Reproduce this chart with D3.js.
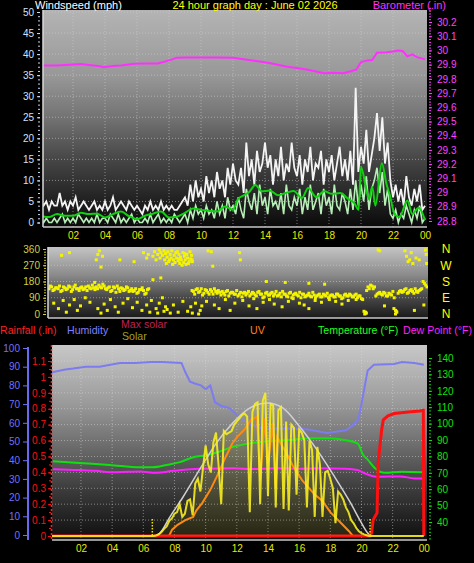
<!DOCTYPE html>
<html><head><meta charset="utf-8">
<script src="https://cdn.jsdelivr.net/npm/d3@7"></script>
<style>html,body{margin:0;padding:0;background:#000;overflow:hidden}svg{display:block}text{font-family:"Liberation Sans",Arial,sans-serif}</style>
</head><body><svg id="c" width="474" height="563"></svg>
<script>
// ---------------- DATA ----------------
const titleText = "24 hour graph day : June 02 2026";
const hourTicks = [2,4,6,8,10,12,14,16,18,20,22,24];
const windTicks = [0,5,10,15,20,25,30,35,40,45,50];
const baroTicks = [28.8,28.9,29.0,29.1,29.2,29.3,29.4,29.5,29.6,29.7,29.8,29.9,30.0,30.1,30.2];
const dirTicks = [0,90,180,270,360];
const dirLetters = ["N","E","S","W","N"];
const humTicks = [0,10,20,30,40,50,60,70,80,90,100];
const rainTicks = [0,0.1,0.2,0.3,0.4,0.5,0.6,0.7,0.8,0.9,1.0,1.1];
const tempTicks = [40,50,60,70,80,90,100,110,120,130,140];

// barometer (inHg)
const baroTimes = [0.1,1,2,2.5,3,3.7,3.9,4.5,5,5.8,6.5,7.3,7.7,8.2,8.5,9,10,11,12,13,13.9,14.6,15.3,16,16.6,17.2,17.7,18.3,18.9,19.3,19.7,20.0,20.4,20.7,21.0,21.6,22.0,22.3,22.6,22.9,23.2,23.5,24];
const baroValues = [29.894,29.894,29.901,29.905,29.898,29.889,29.882,29.891,29.894,29.906,29.908,29.908,29.920,29.937,29.949,29.951,29.950,29.950,29.949,29.933,29.918,29.905,29.887,29.877,29.866,29.852,29.840,29.843,29.840,29.852,29.864,29.918,29.930,29.933,29.984,29.988,29.993,30.000,29.996,29.958,29.972,29.953,29.937];

// wind gust (mph), every 10 minutes from 00:00
const gustValues = [
5,4,5,3,5,4, 4,7,4,5,3,5, 4,6,3,4,5,4, 3,4,5,3,4,3, 5,3,4,6,3,4, 5,4,3,5,4,3,
4,3,2,4,3,5, 3,4,3,5,3,4, 3,4,3,3,4,5, 6,4,9,5,10,6, 8,5,11,7,10,6, 12,8,10,6,13,9,
14,10,9,13,7,19, 11,15,9,17,12,14, 19,13,16,9,15,11, 18,10,14,12,19,13, 11,16,9,15,12,18, 10,14,13,17,9,15,
12,16,10,14,18,11, 15,10,17,9,32,12, 18,14,22,12,16,20, 26,17,25,14,19,10, 6,9,5,8,4,11, 6,4,8,5,9,3, 4];
// wind speed (mph), every 10 minutes
const windValues = [
1,0,1,0,0,1, 0,1,2,0,1,0, 1,0,2,1,0,1, 0,1,0,2,0,1, 1,0,2,1,0,2, 0,1,0,1,2,0,
1,0,0,1,0,2, 0,1,2,0,1,0, 1,0,2,1,0,1, 2,0,3,1,4,2, 3,1,4,2,3,1, 5,2,4,1,6,3,
4,2,6,3,1,8, 5,3,7,2,9,4, 6,2,8,4,5,3, 7,2,9,4,3,6, 4,8,2,6,3,9, 3,5,7,2,8,4,
6,2,9,4,3,7, 5,2,8,3,10,4, 9,5,11,3,8,10, 13,7,12,4,8,2, 1,3,0,2,1,4, 2,0,3,1,4,0, 1];
// average wind (mph)
const avgTimes = [0,0.5,1,1.5,2,2.5,3,3.5,4,4.5,5,5.5,6,6.5,7,7.5,8,8.5,9,9.5,10,10.5,11,11.5,12,12.3,12.7,13,13.4,13.8,14.3,14.8,15.3,15.8,16.3,16.7,17.2,17.7,18.2,18.7,19.2,19.6,19.85,20.0,20.3,20.5,20.7,20.9,21.3,21.6,21.8,22.1,22.4,22.9,23.2,23.6,24];
const avgValues = [1.5,1.3,2.0,1.6,1.6,2.3,2.0,2.1,1.2,2.0,2.6,1.5,0.8,1.6,2.1,2.6,1.2,1.4,2.3,3.3,3.0,2.8,2.6,3.8,3.0,5.5,6.5,7.2,8.9,7.4,7.6,6.5,7.0,7.5,5.8,8.2,6.0,7.4,6.8,7.0,5.6,4.5,3.0,13.2,8.5,5.5,8.5,4.0,14.1,9.0,6.5,2.0,1.3,5.2,2.0,3.5,0.6];

// wind direction (deg), every 10 minutes (A) and offset by 5 minutes (B)
const dirA = [
140,150,135,145,155,130, 145,140,150,135,160,140, 145,135,150,155,140,145, 150,160,145,155,135,150,
130,145,155,125,140,135, 145,130,125,140,120,135, 130,115,140,null,null,null, null,null,null,null,null,null,
null,null,null,null,null,null, null,125,135,120,140,115, 130,110,125,140,115,120, 125,105,130,115,120,110,
100,120,115,105,125,110, 115,100,125,110,95,120, 105,120,110,100,115,125, 110,95,120,105,115,100,
90,110,100,115,95,105, 100,110,95,105,115,100, 105,95,110,100,90,110, 100,105,95,110,100,85,
15,130,140,155,150,110, 120,105,115,100,110,125, 20,115,130,125,140,120, 135,115,125,130,140,170, 150];
const dirB = [
155,130,145,140,125,150, 135,155,125,150,140,130, 150,140,130,145,160,135, 140,150,165,140,145,125,
150,120,140,145,130,150, 125,140,130,115,135,145, 110,135,null,null,null,null, null,null,null,null,null,null,
null,null,null,null,null,null, 130,110,140,125,105,135, 120,135,110,125,130,105, 115,125,100,120,110,130,
110,95,120,115,100,120, 105,120,110,90,115,105, 115,100,125,105,95,110, 100,115,90,110,105,120,
110,95,105,100,120,90, 105,95,110,100,90,105, 95,110,100,85,105,100, 110,95,105,90,100,80,
5,150,160,140,100,115, 110,120,100,115,105,90, 10,125,120,135,115,130, 125,140,120,135,180,160];
// scattered direction readings [hour, deg]
const dirScatter = [
[0.3,60],[0.6,30],[0.9,75],[1.1,10],[1.3,50],[1.6,80],[1.8,20],[2.0,45],[2.3,90],[2.6,65],[2.9,175],[3.1,30],[3.3,5],[3.5,55],[3.7,20],[3.9,80],
[4.2,40],[4.4,10],[4.7,60],[5.0,85],[5.3,35],[5.6,65],[5.9,20],[6.2,50],[6.4,10],[6.5,75],[6.6,190],[6.8,30],[6.9,5],[7.0,60],[7.1,200],[7.2,90],[7.3,15],[7.4,40],
[0.8,325],[1.3,340],[3.0,300],[3.1,330],[3.2,350],[3.3,260],[3.4,320],[4.5,300],[6.0,340],[6.2,310],[6.3,330],[5.4,290],
[6.6,320],[6.7,345],[6.8,300],[6.9,330],[7.0,355],[7.05,310],[7.1,340],[7.2,325],[7.3,350],[7.35,300],[7.4,335],[7.5,315],[7.55,345],[7.6,290],[7.7,330],[7.75,310],
[7.8,350],[7.9,300],[7.95,325],[8.0,285],[8.05,340],[8.1,310],[8.2,295],[8.25,330],[8.3,280],[8.35,315],[8.4,300],[8.5,340],[8.55,285],[8.6,320],[8.65,300],[8.7,275],
[8.75,330],[8.8,310],[8.9,290],[8.95,345],[9.0,305],[9.05,325],[9.1,290],[7.45,280],[7.85,275],[8.15,345],[8.45,270],[8.85,280],[7.65,300],[8.28,305],[8.62,335],[9.08,300],
[7.5,25],[7.7,5],[7.9,50],[8.2,10],[8.5,70],[8.8,15],[9.0,40],[9.1,5],[9.3,60],[9.5,0],[9.6,20],[9.7,45],
[10.0,70],[10.5,50],[10.8,30],[11.2,80],[11.5,20],[11.8,60],[12.3,75],[12.7,45],[13.0,85],[13.2,30],[13.6,65],[14.0,80],[14.3,55],[14.8,40],[15.2,70],[15.5,85],
[15.9,60],[16.2,50],[16.5,30],[16.9,75],[17.3,65],[17.8,80],[18.2,70],[18.6,55],[19.0,75],[19.5,80],
[10.1,350],[10.3,345],[10.4,265],[12.1,340],[12.15,300],[13.8,180],[15.0,175],[16.5,170],[17.5,165],
[20.9,355],[21.0,350],[22.6,350],[22.7,320],[22.8,290],[22.9,300],[23.0,340],[23.1,280],[23.3,310],[23.5,300],[23.9,355],[23.95,330],[23.98,280],
[20.05,0],[20.1,10],[20.15,5],[21.9,30],[22.0,0],[22.05,15],[21.3,45],[23.2,20],[23.8,50]];

// humidity (%)
const humTimes = [0.1,1.0,1.5,2.3,3.2,4.5,5.5,6.5,7.2,8.45,8.7,9.0,9.3,9.7,10.0,10.3,10.6,11.0,11.5,11.9,12.3,12.9,13.7,15.0,16.5,17.8,19.0,19.5,19.8,20.0,20.2,20.4,20.8,22.1,22.6,23.4,24.0];
const humValues = [87,88.5,89,90,90,92,92,92.5,92.5,92,87,82,81,80,78,80,71,69,68,65,62,59,57,57,56.5,54.5,56,59,62,70,79,88,91,91.5,92.5,92,91];
// temperature (F)
const tempTimes = [0.2,1.9,3.85,5.8,6.6,7.5,8.35,9.2,10.1,10.75,11.8,12.9,14.0,15.4,16.7,18.0,18.9,19.75,20.1,20.4,20.85,21.5,22.6,24.0];
const tempValues = [77,76,74.8,73.4,73.4,74.8,76.5,79.5,80.8,82.5,86,88,89.2,90,91,91,90,88,81,78,73,70,70.7,70.3];
// dew point (F)
const dewTimes = [0.2,1.9,3.0,3.85,5.0,5.8,6.8,7.9,9.6,11.8,13,14.5,16,17.5,19.0,19.75,20.2,21.0,22.5,23.4,24];
const dewValues = [72.2,71.7,71.2,70.3,70.6,70.8,70.0,71.2,72.5,72.7,72.3,72.7,72.5,72.7,72.5,71.7,69.7,67.6,67.8,66.6,66.6];
// rainfall (in)
const rainTimes = [0,20.55,20.65,20.75,20.85,21.0,21.07,21.3,21.4,21.7,22.1,23.0,23.75,23.97,24.0];
const rainValues = [0,0,0.02,0.10,0.12,0.145,0.46,0.67,0.73,0.755,0.77,0.78,0.786,0.79,0];
// max solar (W/m2)
const maxSolTimes = [6.6,7.07,7.7,8.55,9.6,10.7,11.75,12.85,13.95,14.95,16.05,17.15,18.2,19.3,19.9,20.4,20.6];
const maxSolValues = [0,19,119,245,415,585,711,805,836,805,685,541,384,208,100,19,0];
// solar (W/m2), every 10 minutes from 00:00
const solarValues = [
0,0,0,0,0,0, 0,0,0,0,0,0, 0,0,0,0,0,0, 0,0,0,0,0,0, 0,0,0,0,0,0, 0,0,0,0,0,0,
0,0,0,0,0,3, 10,25,45,60,95,110, 140,150,200,120,140,220, 230,130,330,360,280,430, 570,450,400,590,650,440,
200,660,640,650,660,700, 720,740,760,770,750,150, 780,830,840,200,850,900, 250,830,820,180,790,810,
170,720,160,700,680,260, 670,650,600,180,600,540, 120,560,450,120,400,410, 360,300,80,280,260,230,
180,150,100,80,50,30, 18,10,5,0,0,0, 0,0,0,0,0,0, 0,0,0,0,0,0, 0,0,0,0,0,0, 0];
// UV index
const uvTimes = [7.65,7.85,8.2,8.7,9.2,9.4,9.8,10.3,10.7,11.3,11.7,12.0,12.5,12.9,13.1,13.3,13.5,13.8,14.0,14.3,14.5,14.6,14.95,15.3,15.6,16.2,17.0,17.5,18.0,18.7,19.2,19.45];
const uvValues = [0,0.4,0.7,1.0,1.2,1.6,2.1,2.9,3.7,5.0,5.8,6.2,6.7,7.3,7.4,7.5,3.5,7.4,4.5,7.1,3.0,6.2,5.6,5.0,4.4,3.5,2.6,2.2,1.5,0.8,0.3,0];
const sunriseHour = 6.58, sunsetHour = 20.55;

// ---------------- DRAW ----------------
const svg = d3.select("#c");
svg.append("rect").attr("width",474).attr("height",563).attr("fill","#000");
const defs = svg.append("defs");
function grad(id, stops){
  const g = defs.append("linearGradient").attr("id",id).attr("x1",0).attr("y1",0).attr("x2",0).attr("y2",1);
  stops.forEach(([o,c])=>g.append("stop").attr("offset",o).attr("stop-color",c));
}
grad("gTop",[[0,"#b4b4b4"],[0.3,"#989898"],[0.5,"#727272"],[0.68,"#484848"],[0.85,"#262626"],[1,"#0a0a0a"]]);
grad("gMid",[[0,"#c4c4c4"],[0.4,"#8a8a8a"],[0.7,"#4a4a4a"],[1,"#1a1a1a"]]);
grad("gBot",[[0,"#c8c8c8"],[0.3,"#9a9a9a"],[0.5,"#707070"],[0.75,"#3a3a3a"],[1,"#0e0e0e"]]);
function clip(id,r){ defs.append("clipPath").attr("id",id).append("rect").attr("x",r.x0).attr("y",r.y0).attr("width",r.x1-r.x0).attr("height",r.y1-r.y0); }
const zip = (t,v)=>t.map((x,i)=>[x,v[i]]);
const every10 = arr => arr.map((v,i)=>[i/6,v]);
const fmt2 = h => d3.format("02")(h%24);
function styleAxis(g,color,fs){
  g.select(".domain").remove();
  g.selectAll("line").attr("stroke",color);
  g.selectAll("text").attr("fill",color).style("font-size",fs+"px").style("font-family","Liberation Sans, Arial, sans-serif");
}
function gridDots(g,color){ g.attr("stroke",color).attr("stroke-width",1).attr("stroke-dasharray","1,2"); }

// ===== TOP: wind + barometer =====
const T = {x0:43,x1:427,y0:10,y1:227};
clip("cT",T);
const xT = d3.scaleLinear([0,24],[41,425]);
const yW = d3.scaleLinear([0,50],[222.5,12]);
const yB = d3.scaleLinear([28.8,30.2],[221,22]);
svg.append("rect").attr("x",T.x0).attr("y",T.y0).attr("width",T.x1-T.x0).attr("height",T.y1-T.y0).attr("fill","url(#gTop)");
const gT = svg.append("g").attr("clip-path","url(#cT)");
const gridT = gT.append("g"); gridDots(gridT,"rgba(210,210,210,0.55)");
hourTicks.slice(0,11).forEach(h=>gridT.append("line").attr("x1",xT(h)).attr("x2",xT(h)).attr("y1",T.y0).attr("y2",T.y1));
windTicks.slice(1).forEach(v=>gridT.append("line").attr("x1",T.x0).attr("x2",T.x1).attr("y1",yW(v)).attr("y2",yW(v)));
gT.append("path").datum(zip(baroTimes,baroValues)).attr("fill","none").attr("stroke","#ff30ff").attr("stroke-width",2)
  .attr("d",d3.line().x(d=>xT(d[0])).y(d=>yB(d[1])));
gT.append("path").datum(every10(gustValues)).attr("fill","none").attr("stroke","#f4f4f4").attr("stroke-width",1.8)
  .attr("d",d3.line().x(d=>xT(d[0])).y(d=>yW(d[1])));
gT.append("path").datum(every10(windValues)).attr("fill","none").attr("stroke","#b8eeb8").attr("stroke-width",1.6)
  .attr("d",d3.line().x(d=>xT(d[0])).y(d=>yW(d[1])));
gT.append("path").datum(zip(avgTimes,avgValues)).attr("fill","none").attr("stroke","#10d010").attr("stroke-width",2)
  .attr("d",d3.line().curve(d3.curveMonotoneX).x(d=>xT(d[0])).y(d=>yW(d[1])));
svg.append("line").attr("x1",T.x0).attr("x2",T.x0).attr("y1",T.y0).attr("y2",T.y1).attr("stroke","#d8d8d8").attr("stroke-width",1.5);
svg.append("line").attr("x1",T.x0).attr("x2",T.x1).attr("y1",T.y1).attr("y2",T.y1).attr("stroke","#c8c8c8").attr("stroke-width",1.5);
// axes
svg.append("g").attr("transform","translate(40,0)").call(d3.axisLeft(yW).tickValues(d3.range(0,51,1)).tickSize(2).tickFormat(""))
  .call(g=>styleAxis(g,"#c8d8f0",10));
svg.append("g").attr("transform","translate(40,0)").call(d3.axisLeft(yW).tickValues(windTicks).tickSize(3).tickPadding(3))
  .call(g=>styleAxis(g,"#cfe0ff",10));
svg.append("g").attr("transform","translate(429,0)").call(d3.axisRight(yB).tickValues(d3.range(28.8,30.31,0.02)).tickSize(2).tickFormat(""))
  .call(g=>styleAxis(g,"#ff40ff",10));
svg.append("g").attr("transform","translate(429,0)").call(d3.axisRight(yB).tickValues(baroTicks).tickSize(3).tickPadding(5).tickFormat(d=>String(+d.toFixed(1))))
  .call(g=>styleAxis(g,"#ff40ff",10));
svg.append("g").attr("transform",`translate(0,${T.y1})`).call(d3.axisBottom(xT).tickValues(hourTicks).tickSize(0).tickPadding(5).tickFormat(fmt2))
  .call(g=>styleAxis(g,"#e8e800",10));
svg.append("text").attr("x",35).attr("y",9).attr("fill","#ffffff").style("font-size","11px").text("Windspeed (mph)");
svg.append("text").attr("x",255).attr("y",9).attr("text-anchor","middle").attr("fill","#ffff00").style("font-size","11px").text(titleText);
svg.append("text").attr("x",446).attr("y",9).attr("text-anchor","end").attr("fill","#ff30ff").style("font-size","11px").text("Barometer (.in)");

// ===== MIDDLE: wind direction =====
const M = {x0:48,x1:428,y0:247,y1:318};
clip("cM",M);
const xM = d3.scaleLinear([0,24],[49,427]);
const yD = d3.scaleLinear([0,360],[314,249]);
svg.append("rect").attr("x",M.x0).attr("y",M.y0).attr("width",M.x1-M.x0).attr("height",M.y1-M.y0).attr("fill","url(#gMid)");
const gM = svg.append("g").attr("clip-path","url(#cM)");
const gridM = gM.append("g"); gridDots(gridM,"rgba(220,220,220,0.5)");
[90,180,270].forEach(v=>gridM.append("line").attr("x1",M.x0).attr("x2",M.x1).attr("y1",yD(v)).attr("y2",yD(v)));
const dirPts = [];
dirA.forEach((v,i)=>{ if(v!=null) dirPts.push([i/6,v]); });
dirB.forEach((v,i)=>{ if(v!=null) dirPts.push([i/6+1/12,v]); });
dirScatter.forEach(d=>dirPts.push(d));
gM.selectAll("rect.dir").data(dirPts).join("rect").attr("class","dir")
  .attr("x",d=>xM(d[0])-1.5).attr("y",d=>yD(d[1])-1.5).attr("width",3).attr("height",3).attr("fill","#f4f400");
svg.append("line").attr("x1",M.x0).attr("x2",M.x0).attr("y1",M.y0).attr("y2",M.y1).attr("stroke","#d8d8d8").attr("stroke-width",1.5);
svg.append("line").attr("x1",M.x0).attr("x2",M.x1).attr("y1",M.y1).attr("y2",M.y1).attr("stroke","#c8c8c8").attr("stroke-width",1.5);
svg.append("g").attr("transform","translate(46,0)").call(d3.axisLeft(yD).tickValues(d3.range(0,361,15)).tickSize(2).tickFormat(""))
  .call(g=>styleAxis(g,"#c8c830",10));
svg.append("g").attr("transform","translate(46,0)").call(d3.axisLeft(yD).tickValues(dirTicks).tickSize(3).tickPadding(3))
  .call(g=>styleAxis(g,"#d0d040",10));
svg.append("g").selectAll("text").data(dirTicks).join("text")
  .attr("x",446).attr("y",d=>yD(d)).attr("dy","0.36em").attr("text-anchor","middle").attr("fill","#ffff00").style("font-size","12px")
  .text((d,i)=>dirLetters[i]);

// ===== BOTTOM: humidity/temp/solar/rain =====
const B = {x0:52,x1:427,y0:345,y1:540};
clip("cB",B);
const xB = d3.scaleLinear([0,24],[49.8,423.8]);
const yH = d3.scaleLinear([0,100],[535,348]);
const yR = d3.scaleLinear([0,1.1],[536,361]);
const yTe = d3.scaleLinear([40,140],[522,358]);
const ySol = d3.scaleLinear([0,1100],[536,361]);
const yUV = d3.scaleLinear([0,11],[536,361]);
svg.append("rect").attr("x",B.x0).attr("y",B.y0).attr("width",B.x1-B.x0).attr("height",B.y1-B.y0).attr("fill","url(#gBot)");
const gB = svg.append("g").attr("clip-path","url(#cB)");
const gridB = gB.append("g"); gridDots(gridB,"rgba(220,220,220,0.5)");
hourTicks.slice(0,11).forEach(h=>gridB.append("line").attr("x1",xB(h)).attr("x2",xB(h)).attr("y1",B.y0).attr("y2",B.y1));
rainTicks.slice(1).forEach(v=>gridB.append("line").attr("x1",B.x0).attr("x2",B.x1).attr("y1",yR(v)).attr("y2",yR(v)));
const lineB = (sc,curve)=>d3.line().curve(curve||d3.curveLinear).x(d=>xB(d[0])).y(d=>sc(d[1]));
gB.append("path").datum(zip(humTimes,humValues)).attr("fill","none").attr("stroke","#7c7cf0").attr("stroke-width",2).attr("d",lineB(yH));
gB.append("path").datum(zip(tempTimes,tempValues)).attr("fill","none").attr("stroke","#10e010").attr("stroke-width",2).attr("d",lineB(yTe,d3.curveMonotoneX));
gB.append("path").datum(zip(dewTimes,dewValues)).attr("fill","none").attr("stroke","#ff20ff").attr("stroke-width",2).attr("d",lineB(yTe,d3.curveMonotoneX));
gB.append("path").datum(zip(maxSolTimes,maxSolValues)).attr("fill","none").attr("stroke","#d0d0d0").attr("stroke-width",1.5).attr("d",lineB(ySol,d3.curveMonotoneX));
gB.append("path").datum(zip(uvTimes,uvValues)).attr("fill","none").attr("stroke","#ff8010").attr("stroke-width",2).attr("d",lineB(yUV));
gB.append("path").datum(zip(rainTimes,rainValues)).attr("fill","none").attr("stroke","#ff1010").attr("stroke-width",3).attr("d",lineB(yR));
gB.append("path").datum(every10(solarValues)).attr("fill","none").attr("stroke","#f8f020").attr("stroke-width",2).attr("stroke-opacity",0.9).attr("d",lineB(ySol));
gB.append("path").datum(every10(solarValues).filter(d=>d[0]>=sunriseHour && d[0]<=sunsetHour)).attr("fill","#f0e020").attr("fill-opacity",0.1).attr("stroke","none")
  .attr("d",d3.area().x(d=>xB(d[0])).y0(ySol(0)).y1(d=>ySol(d[1])));
[sunriseHour,sunsetHour].forEach(h=>gB.append("line").attr("x1",xB(h)).attr("x2",xB(h)).attr("y1",519).attr("y2",536)
  .attr("stroke","#f0e000").attr("stroke-width",1.5).attr("stroke-dasharray","1.5,1.5"));
svg.append("line").attr("x1",B.x0).attr("x2",B.x1).attr("y1",B.y1).attr("y2",B.y1).attr("stroke","#c8c8c8").attr("stroke-width",1.5);
svg.append("line").attr("x1",51.5).attr("x2",51.5).attr("y1",B.y0).attr("y2",B.y1).attr("stroke","#ff2020").attr("stroke-width",1.5).attr("stroke-dasharray","2,2");
svg.append("line").attr("x1",28).attr("x2",28).attr("y1",347).attr("y2",540).attr("stroke","#6a6af0").attr("stroke-width",2);
svg.append("g").attr("transform","translate(27,0)").call(d3.axisLeft(yH).tickValues(humTicks).tickSize(4).tickPadding(3))
  .call(g=>styleAxis(g,"#7070ff",10));
svg.append("g").attr("transform","translate(51,0)").call(d3.axisLeft(yR).tickValues(d3.range(0,1.16,0.05)).tickSize(2).tickFormat(""))
  .call(g=>styleAxis(g,"#ff2020",10));
svg.append("g").attr("transform","translate(51,0)").call(d3.axisLeft(yR).tickValues(rainTicks).tickSize(3).tickPadding(2).tickFormat(d=>String(+d.toFixed(1))))
  .call(g=>styleAxis(g,"#ff1010",10));
svg.append("g").attr("transform","translate(429,0)").call(d3.axisRight(yTe).tickValues(d3.range(30,141,2)).tickSize(2).tickFormat(""))
  .call(g=>styleAxis(g,"#10d010",10));
svg.append("g").attr("transform","translate(429,0)").call(d3.axisRight(yTe).tickValues(tempTicks).tickSize(3).tickPadding(5))
  .call(g=>styleAxis(g,"#10e010",10));
svg.append("g").attr("transform",`translate(0,${B.y1})`).call(d3.axisBottom(xB).tickValues(hourTicks).tickSize(0).tickPadding(5).tickFormat(fmt2))
  .call(g=>styleAxis(g,"#e8e800",10));
// legend
const leg = [["Rainfall (.in)",0,334,"#ff2020"],["Humidity",67,334,"#8080ff"],["Max solar",121,328,"#c02050"],["Solar",122,340,"#a0a020"],
  ["UV",250,334,"#ff8020"],["Temperature (°F)",318,334,"#20ff20"],["Dew Point (°F)",403,334,"#ff20ff"]];
svg.append("g").selectAll("text").data(leg).join("text").attr("x",d=>d[1]).attr("y",d=>d[2]).attr("fill",d=>d[3])
  .style("font-size","10.6px").text(d=>d[0]);
</script></body></html>
